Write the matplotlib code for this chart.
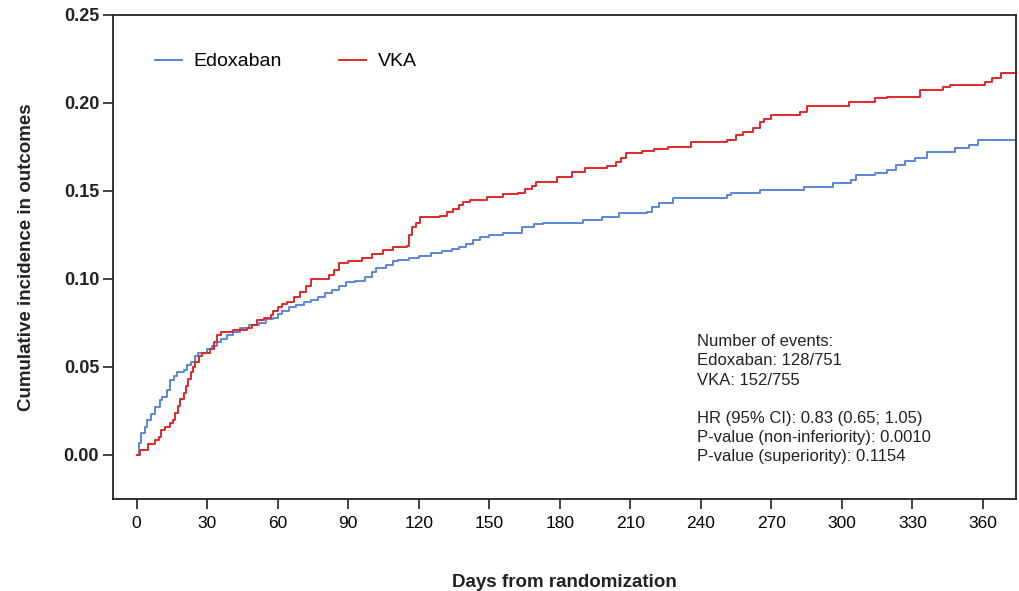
import matplotlib
matplotlib.use("Agg")
import matplotlib.pyplot as plt

# cumulative incidence (day, value), drawn as steps
edox_days = [0, 1, 2, 3.5, 4.5, 6, 8, 10, 11, 13, 14, 16, 17, 20, 21.5, 23, 25, 26, 30, 32,
             34, 36, 38.5, 41, 44, 48, 52, 55, 58, 60, 62, 65, 68, 71, 74, 77, 80, 83, 86, 89,
             93, 97, 100, 102, 106, 109, 111, 116, 120, 125, 130, 134, 137, 140, 143, 146, 150,
             156, 164, 169, 173, 190, 198, 205, 217, 219, 222, 228, 251, 253, 265, 284, 296,
             304, 306, 314, 319, 323, 327, 331, 336, 348, 354, 358, 374]
edox_vals = [0, 0.007, 0.0125, 0.016, 0.020, 0.023, 0.027, 0.031, 0.033, 0.037, 0.0426, 0.045,
             0.047, 0.048, 0.051, 0.053, 0.056, 0.058, 0.060, 0.062, 0.064, 0.066, 0.068, 0.070,
             0.072, 0.074, 0.075, 0.077, 0.078, 0.080, 0.082, 0.084, 0.085, 0.087, 0.088, 0.090,
             0.092, 0.094, 0.096, 0.098, 0.099, 0.101, 0.104, 0.106, 0.108, 0.110, 0.111, 0.112,
             0.113, 0.115, 0.116, 0.117, 0.118, 0.120, 0.122, 0.124, 0.125, 0.126, 0.1295, 0.131,
             0.132, 0.1335, 0.135, 0.1375, 0.138, 0.141, 0.143, 0.146, 0.1475, 0.149, 0.1505,
             0.152, 0.1545, 0.156, 0.159, 0.160, 0.162, 0.165, 0.167, 0.169, 0.172, 0.1745,
             0.176, 0.179, 0.179]

vka_days = [0, 1.5, 5, 8, 9.5, 10.5, 12, 14, 15.5, 16.5, 17.5, 18.5, 20, 21, 22, 23, 24, 25,
            26.5, 28, 31, 33, 34, 36, 41, 47, 49, 51, 54, 57, 58, 60, 62, 64, 67, 69.5, 72, 74,
            82, 84, 86, 90, 96, 100, 105, 109, 115, 116, 117, 119, 120.5, 129, 132, 134.5, 137,
            139, 142, 149, 156, 162, 165, 168, 170, 179, 185, 190.5, 200, 204, 206, 208, 215,
            220, 226, 236, 251, 255, 258, 262, 265, 267, 270, 282, 285, 303, 314, 319, 333, 343,
            346, 361, 364, 367.5, 374]
vka_vals = [0, 0.003, 0.006, 0.0085, 0.010, 0.014, 0.016, 0.018, 0.020, 0.024, 0.028, 0.032,
            0.035, 0.039, 0.043, 0.047, 0.050, 0.053, 0.056, 0.058, 0.060, 0.064, 0.068, 0.070,
            0.071, 0.072, 0.074, 0.0767, 0.078, 0.0795, 0.082, 0.084, 0.086, 0.087, 0.090,
            0.0926, 0.096, 0.100, 0.102, 0.105, 0.109, 0.110, 0.112, 0.114, 0.1165, 0.118,
            0.119, 0.125, 0.1295, 0.132, 0.135, 0.136, 0.138, 0.140, 0.142, 0.1438, 0.145,
            0.1465, 0.148, 0.149, 0.151, 0.153, 0.155, 0.158, 0.161, 0.163, 0.164, 0.1665,
            0.169, 0.1716, 0.1725, 0.174, 0.175, 0.178, 0.179, 0.182, 0.1835, 0.186, 0.189,
            0.191, 0.193, 0.195, 0.198, 0.2006, 0.203, 0.2035, 0.2074, 0.209, 0.210, 0.212,
            0.214, 0.217, 0.217]

x_ticks = list(range(0, 361, 30))
y_ticks = [0.00, 0.05, 0.10, 0.15, 0.20, 0.25]

stats_lines = ["Number of events:", "Edoxaban: 128/751", "VKA: 152/755", "",
               "HR (95% CI): 0.83 (0.65; 1.05)", "P-value (non-inferiority): 0.0010",
               "P-value (superiority): 0.1154"]

plt.rcParams['font.family'] = ['Liberation Sans', 'DejaVu Sans']

fig = plt.figure(figsize=(10.19, 5.91), dpi=100)
ax = fig.add_axes([0.111, 0.1557, 0.886, 0.819])

ax.plot(edox_days, edox_vals, drawstyle='steps-post', color='#5b85d8', lw=1.4, label='Edoxaban')
ax.plot(vka_days, vka_vals, drawstyle='steps-post', color='#e02828', lw=1.4, label='VKA')

ax.set_xlim(-10, 374)
ax.set_ylim(-0.025, 0.25)
ax.set_xticks(x_ticks)
ax.set_yticks(y_ticks)
ax.set_yticklabels(["%.2f" % v for v in y_ticks])

for s in ax.spines.values():
    s.set_linewidth(1.3)
    s.set_color('#222222')
ax.tick_params(axis='both', direction='out', length=7, width=1.2, color='#222222')
ax.tick_params(axis='y', labelsize=13, pad=3)
ax.tick_params(axis='x', labelsize=12.5, pad=5)
for lbl in ax.get_yticklabels():
    lbl.set_fontweight('bold')
    lbl.set_color('#222222')

ax.set_ylabel("Cumulative incidence in outcomes", fontsize=13.5, fontweight='bold',
              color='#222222', labelpad=21)
ax.set_xlabel("Days from randomization", fontsize=13.5, fontweight='bold',
              color='#222222', labelpad=31)

leg = ax.legend(loc='upper left', bbox_to_anchor=(0.027, 0.958), ncol=2, frameon=False,
                fontsize=14, handlelength=1.4, columnspacing=2.9, handletextpad=0.6)

ax.text(0.647, 0.34, "\n".join(stats_lines), transform=ax.transAxes, fontsize=12,
        va='top', ha='left', linespacing=1.34, color='#222222')

fig.savefig("out.png", dpi=100)
